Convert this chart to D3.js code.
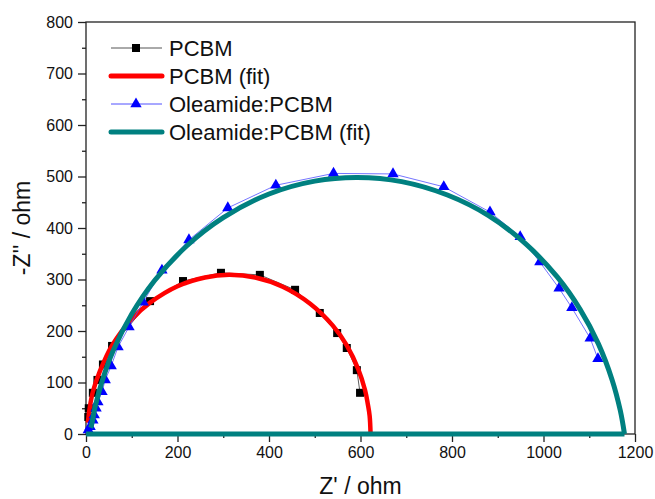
<!DOCTYPE html>
<html>
<head>
<meta charset="utf-8">
<script src="https://cdn.jsdelivr.net/npm/d3@7"></script>
<style>
  body { margin: 0; background: #fff; }
  svg { display: block; font-family: Arial, "Liberation Sans", sans-serif; }
</style>
</head>
<body>
<div class="chart"></div>
<script>
var svgWidth = 655;
var svgHeight = 499;

var margin = { top: 22, right: 20, bottom: 65, left: 86 };
var width = 635 - margin.left;
var height = 434 - margin.top;

// measured points, PCBM
var pcbmZr = [5, 6, 15, 25, 37, 57, 140, 212, 295, 380, 457, 511, 549, 570, 592, 599];
var pcbmZi = [33, 50, 80, 105, 135, 171, 258, 297, 313, 309, 280, 235, 196, 167, 124, 80];

// fit curve
var pcbmFitZr = [4, 8, 15, 30, 57, 100, 140, 200, 260, 313, 370, 430, 490, 540, 570, 595, 610, 616, 620, 622];
var pcbmFitZi = [22, 50, 82, 121, 172, 223, 255, 287, 304, 309, 304, 286, 253, 210, 172, 126, 85, 58, 35, 0];

// measured points, Oleamide:PCBM
var oleZr = [5, 9, 15, 18, 22, 26, 35, 42, 55, 70, 94, 125, 166, 225, 310, 415, 541, 671, 782, 883, 949, 992, 1034, 1062, 1102, 1119];
var oleZi = [8, 14, 27, 37, 50, 62, 82, 105, 132, 169, 208, 256, 318, 377, 439, 483, 506, 505, 480, 431, 383, 334, 283, 245, 186, 146];

// fit curve
var oleFitZr = [10, 12, 20, 35, 60, 100, 150, 220, 300, 400, 500, 593, 690, 790, 880, 960, 1030, 1080, 1120, 1150, 1168, 1177];
var oleFitZi = [12, 17, 53, 102, 163, 233, 298, 365, 420, 466, 491, 498, 490, 464, 424, 370, 305, 242, 175, 105, 45, 0];
var oleBaseZr = [0, 1177];
var oleBaseZi = [0, 0];

var xTicks = [0, 200, 400, 600, 800, 1000, 1200];
var yTicks = [0, 100, 200, 300, 400, 500, 600, 700, 800];

var legendNames = ["PCBM", "PCBM (fit)", "Oleamide:PCBM", "Oleamide:PCBM (fit)"];

function zip(a, b) {
    return a.map((v, i) => [v, b[i]]);
}

var svg = d3.select(".chart")
    .append("svg")
    .attr("width", svgWidth)
    .attr("height", svgHeight);

var chartGroup = svg.append("g")
    .attr("transform", `translate(${margin.left}, ${margin.top})`);

var x = d3.scaleLinear().domain([0, 1200]).range([0, width]);
var y = d3.scaleLinear().domain([0, 800]).range([height, 0]);

// minor ticks
chartGroup.append("g")
    .attr("transform", `translate(0,${height})`)
    .call(d3.axisBottom(x).tickValues(d3.range(100, 1200, 200)).tickSize(4).tickFormat(""))
    .call(g => g.select(".domain").remove());
chartGroup.append("g")
    .call(d3.axisLeft(y).tickValues(d3.range(50, 800, 100)).tickSize(4).tickFormat(""))
    .call(g => g.select(".domain").remove());

// major ticks
var xAxis = chartGroup.append("g")
    .attr("transform", `translate(0,${height})`)
    .call(d3.axisBottom(x).tickValues(xTicks).tickSize(8).tickPadding(5).tickFormat(d3.format("d")));
xAxis.select(".domain").remove();

var yAxis = chartGroup.append("g")
    .call(d3.axisLeft(y).tickValues(yTicks).tickSize(8).tickPadding(5).tickFormat(d3.format("d")));
yAxis.select(".domain").remove();

chartGroup.selectAll(".tick line").attr("stroke", "#222").attr("stroke-width", 1.3);
chartGroup.selectAll(".tick text")
    .attr("font-size", 16)
    .attr("font-family", "Arial, 'Liberation Sans', sans-serif")
    .attr("fill", "#111");

// frame
chartGroup.append("rect")
    .attr("width", width)
    .attr("height", height)
    .attr("fill", "none")
    .attr("stroke", "#222")
    .attr("stroke-width", 1.3);

var line = d3.line()
    .x(d => x(d[0]))
    .y(d => y(d[1]));
var smooth = d3.line()
    .x(d => x(d[0]))
    .y(d => y(d[1]))
    .curve(d3.curveCatmullRom.alpha(0.5));

var plot = chartGroup.append("g");

// PCBM data
plot.append("path")
    .datum(zip(pcbmZr, pcbmZi))
    .attr("d", line)
    .attr("fill", "none")
    .attr("stroke", "#333")
    .attr("stroke-width", 0.8);
plot.selectAll(".sq")
    .data(zip(pcbmZr, pcbmZi))
    .enter()
    .append("rect")
    .attr("x", d => x(d[0]) - 4)
    .attr("y", d => y(d[1]) - 4)
    .attr("width", 8)
    .attr("height", 8)
    .attr("fill", "#000");

// PCBM fit
plot.append("path")
    .datum(zip(pcbmFitZr, pcbmFitZi))
    .attr("d", smooth)
    .attr("fill", "none")
    .attr("stroke", "#ff0000")
    .attr("stroke-width", 4.5);

// Oleamide:PCBM data
var tri = d3.symbol().type(d3.symbolTriangle).size(56);
plot.append("path")
    .datum(zip(oleZr, oleZi))
    .attr("d", line)
    .attr("fill", "none")
    .attr("stroke", "#5050ff")
    .attr("stroke-width", 0.8);
plot.selectAll(".tri")
    .data(zip(oleZr, oleZi))
    .enter()
    .append("path")
    .attr("d", tri)
    .attr("transform", d => `translate(${x(d[0])},${y(d[1])})`)
    .attr("fill", "#0000ff");

// Oleamide:PCBM fit
plot.append("path")
    .datum(zip(oleBaseZr, oleBaseZi))
    .attr("d", line)
    .attr("fill", "none")
    .attr("stroke", "#008080")
    .attr("stroke-width", 5);
plot.append("path")
    .datum(zip(oleFitZr, oleFitZi))
    .attr("d", smooth)
    .attr("fill", "none")
    .attr("stroke", "#008080")
    .attr("stroke-width", 5);

// legend
var legend = svg.append("g");
var rowY = [48, 76, 104, 132];
legendNames.forEach(function (name, i) {
    var g = legend.append("g").attr("transform", `translate(0, ${rowY[i]})`);
    if (i === 0) {
        g.append("line").attr("x1", 111).attr("x2", 162).attr("stroke", "#555").attr("stroke-width", 1);
        g.append("rect").attr("x", 132).attr("y", -4).attr("width", 8).attr("height", 8).attr("fill", "#000");
    } else if (i === 2) {
        g.append("line").attr("x1", 111).attr("x2", 162).attr("stroke", "#5050ff").attr("stroke-width", 1);
        g.append("path").attr("d", tri).attr("transform", "translate(136,0)").attr("fill", "#0000ff");
    } else {
        g.append("line").attr("x1", 111).attr("x2", 162)
            .attr("stroke", i === 1 ? "#ff0000" : "#008080")
            .attr("stroke-width", 5)
            .attr("stroke-linecap", "round");
    }
    g.append("text")
        .attr("x", 169)
        .attr("y", 7.5)
        .attr("font-size", 22)
        .attr("fill", "#111")
        .text(name);
});

// axis titles
svg.append("text")
    .attr("x", margin.left + width / 2)
    .attr("y", 494)
    .attr("text-anchor", "middle")
    .attr("font-size", 23)
    .attr("fill", "#111")
    .text("Z' / ohm");

svg.append("text")
    .attr("transform", `translate(30, ${margin.top + height / 2}) rotate(-90)`)
    .attr("text-anchor", "middle")
    .attr("font-size", 23)
    .attr("fill", "#111")
    .text("-Z'' / ohm");
</script>
</body>
</html>
